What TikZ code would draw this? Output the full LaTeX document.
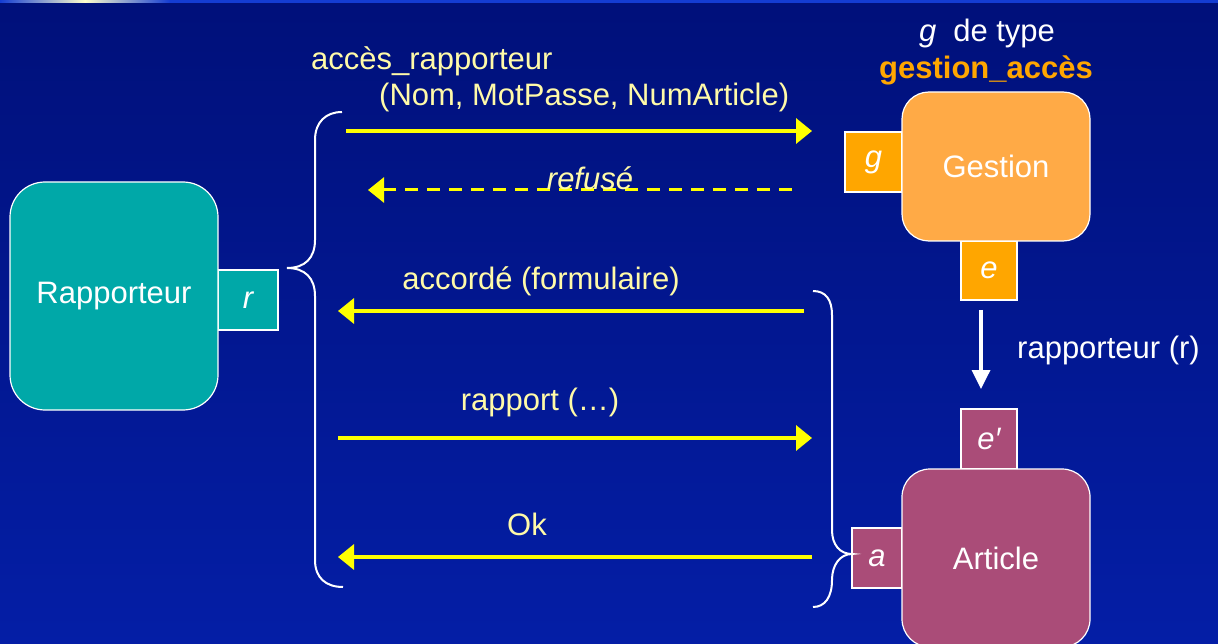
\documentclass[tikz,border=0pt]{standalone}
\usepackage{fontspec}
\setmainfont{Liberation Sans}
\usepackage{xcolor}
\usepackage{tikz}
\usetikzlibrary{arrows.meta, positioning, calc}
\definecolor{bgtop}{RGB}{0,16,122}
\definecolor{bgbottom}{RGB}{4,30,166}
\definecolor{stripblue}{RGB}{20,60,210}
\definecolor{rapteal}{RGB}{0,168,168}
\definecolor{gesorange}{RGB}{255,170,70}
\definecolor{portorange}{RGB}{255,166,0}
\definecolor{artmauve}{RGB}{170,76,120}
\definecolor{msgyellow}{RGB}{255,255,0}
\definecolor{msgtextcol}{RGB}{255,250,168}
\tikzstyle{arrow} = [line width=3.5pt, draw=msgyellow, -{Triangle[length=16pt,width=25pt]}]
\tikzstyle{component} = [rectangle, draw=white, line width=1.2pt, text=white, inner sep=0pt, font=\fontsize{31}{37}\selectfont]
\tikzstyle{port} = [rectangle, draw=white, line width=1.2pt, text=white, inner sep=0pt, minimum width=57pt, minimum height=60pt, font=\fontsize{31}{37}\selectfont\itshape]
\tikzstyle{msgtext} = [text=msgtextcol, inner sep=0pt, font=\fontsize{31}{37}\selectfont]
\tikzstyle{bracket} = [draw=white, line width=2pt]

\begin{document}
\begin{tikzpicture}[x=1pt, y=-1pt]

\useasboundingbox (0,0) rectangle (1218,644);
\clip (0,0) rectangle (1218,644);
\shade[top color=bgtop, bottom color=bgbottom] (0,0) rectangle (1218,644);
\fill[stripblue] (0,0) rectangle (1218,3);
\shade[left color=stripblue, right color=white!80!yellow] (0,0) rectangle (85,3);
\shade[left color=white!80!yellow, right color=stripblue] (85,0) rectangle (170,3);

\node[port, fill=rapteal, minimum width=60pt] (rport) at (248,300) {r};
\node[component, fill=rapteal, minimum width=208pt, minimum height=228pt, rounded corners=35pt] (rap) at (114,296) {Rapporteur};

\node[port, fill=portorange] (gport) at (873.5,162) {g};
\node[port, fill=portorange, minimum width=56pt, minimum height=59pt] (eport) at (989,270.5) {e};
\node[component, fill=gesorange, minimum width=188pt, minimum height=149pt, rounded corners=27pt] (ges) at (996,166.5) {Gestion};

\node[port, fill=artmauve, minimum width=56pt] (epport) at (989,439) {e′};
\node[port, fill=artmauve, minimum width=50pt] (aport) at (877,558) {a};
\node[component, fill=artmauve, minimum width=188pt, minimum height=178pt, rounded corners=28pt] (art) at (996,558) {Article};

\node[text=white, inner sep=0pt, anchor=base, font=\fontsize{31}{37}\selectfont] (ttype) at (987,42) {\textit{g}\hspace{17pt}de type};
\node[text=portorange, inner sep=0pt, anchor=base, font=\fontsize{31}{37}\selectfont\bfseries] (tgestion) at (986,79) {gestion\_accès};

\coordinate (m1s) at (346,131);
\coordinate (m1e) at (812,131);
\coordinate (m2s) at (792,190);
\coordinate (m2e) at (368,190);
\coordinate (m3s) at (804,311);
\coordinate (m3e) at (338,311);
\coordinate (m4s) at (338,438);
\coordinate (m4e) at (812,438);
\coordinate (m5s) at (812,557);
\coordinate (m5e) at (338,557);
\coordinate (w1) at (981,310);
\coordinate (w2) at (981,389);

\draw[arrow] (m1s) -- (m1e);
\draw[arrow, line width=3pt, dash pattern=on 13pt off 9pt] (m2s) -- (m2e);
\draw[arrow] (m3s) -- (m3e);
\draw[arrow] (m4s) -- (m4e);
\draw[arrow] (m5s) -- (m5e);
\draw[line width=3.5pt, white, -{Triangle[length=19pt,width=18pt]}] (w1) -- (w2);

\node[msgtext, anchor=base west] (tacces) at (311,70) {accès\_rapporteur};
\node[msgtext, anchor=base west] (tparams) at (379,106) {(Nom, MotPasse, NumArticle)};
\node[msgtext, anchor=base, font=\fontsize{31}{37}\selectfont\itshape] (trefuse) at (590,190) {refusé};
\node[msgtext, anchor=base] (taccord) at (541,290) {accordé (formulaire)};
\node[msgtext, anchor=base] (trapport) at (540,410) {rapport (…)};
\node[msgtext, anchor=base] (tok) at (527,535) {Ok};
\node[msgtext, text=white, anchor=base west] (trapp) at (1017,358) {rapporteur (r)};

\draw[bracket] (342,112) .. controls (326,112) and (315,122) .. (315,140) -- (315,240)
    .. controls (315,258) and (305,268) .. (287,268)
    .. controls (305,268) and (315,278) .. (315,296) -- (315,560)
    .. controls (315,578) and (326,587) .. (343,587);
\draw[bracket] (813,291) .. controls (826,291) and (832,300) .. (832,315) -- (832,530)
    .. controls (832,545) and (840,554) .. (852,554)
    .. controls (840,554) and (832,565) .. (832,580)
    .. controls (832,597) and (825,607) .. (813,607);

\end{tikzpicture}
\end{document}
